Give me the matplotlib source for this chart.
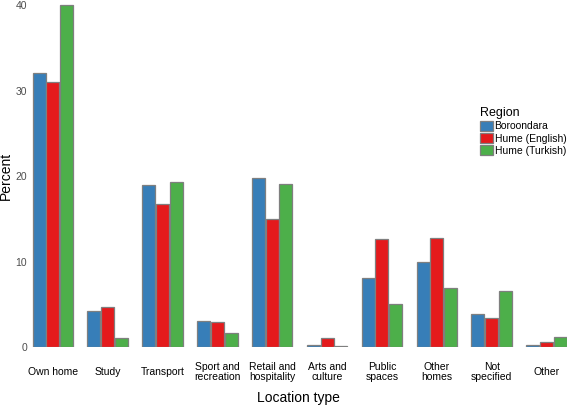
import numpy as np
import matplotlib
matplotlib.use("Agg")
import matplotlib.pyplot as plt

plt.rcParams['font.family'] = ['Liberation Sans', 'DejaVu Sans']

# Data
categories = ["Own home", "Study", "Transport", "Sport and\nrecreation",
              "Retail and\nhospitality", "Arts and\nculture", "Public\nspaces",
              "Other\nhomes", "Not\nspecified", "Other"]
regions = ["Boroondara", "Hume (English)", "Hume (Turkish)"]
boroondara = [32.1, 4.2, 19.0, 3.05, 19.8, 0.25, 8.1, 10.0, 3.9, 0.25]
hume_english = [31.0, 4.7, 16.7, 2.9, 15.0, 1.05, 12.6, 12.7, 3.45, 0.55]
hume_turkish = [40.0, 1.0, 19.3, 1.6, 19.1, 0.08, 5.0, 6.95, 6.55, 1.17]
colors = ["#377EB8", "#E41A1C", "#4DAF4A"]

W, H = 567, 408
fig = plt.figure(figsize=(W / 100, H / 100), dpi=100)
# axes in pixel terms: left 30, right 567, baseline at y=347, top at y=0
ax = fig.add_axes([30 / W, (H - 347) / H, 537 / W, 347 / H])

x = np.arange(len(categories))
width = 0.237
step = 0.25
for i, (vals, lab, col) in enumerate(zip([boroondara, hume_english, hume_turkish], regions, colors)):
    ax.bar(x + (i - 1) * step, vals, width, color=col, edgecolor="#7f7f7f",
           linewidth=0.9, label=lab)

ax.set_xlim(-0.416, 9.374)
ax.set_ylim(0, 40 * 347 / 342)
ax.set_yticks([0, 10, 20, 30, 40])
ax.set_xticks(x)
ax.set_xticklabels(categories, fontsize=7.5, linespacing=0.95, va="center")
ax.tick_params(axis="y", length=0, labelsize=7.5, labelcolor="#4d4d4d", pad=2)
ax.tick_params(axis="x", length=0, pad=18, labelcolor="black")
for s in ax.spines.values():
    s.set_visible(False)

ax.set_xlabel("Location type", fontsize=10, va="center")
ax.xaxis.set_label_coords(0.5, -(398 - 347) / 347)
ax.set_ylabel("Percent", fontsize=10, va="center")
ax.yaxis.set_label_coords(-(30 - 6) / 537, 0.5 + (347 / 2 - 176) / 347)

leg = ax.legend(title="Region", loc="upper left", bbox_to_anchor=(480 / W, 1 - 107 / H),
                bbox_transform=fig.transFigure, frameon=False, fontsize=7.5,
                title_fontsize=9, handlelength=1.2, handleheight=1.15,
                handletextpad=0.2, labelspacing=0.15, borderpad=0, borderaxespad=0)
leg._legend_box.align = "left"

fig.savefig("out.png", dpi=100)
